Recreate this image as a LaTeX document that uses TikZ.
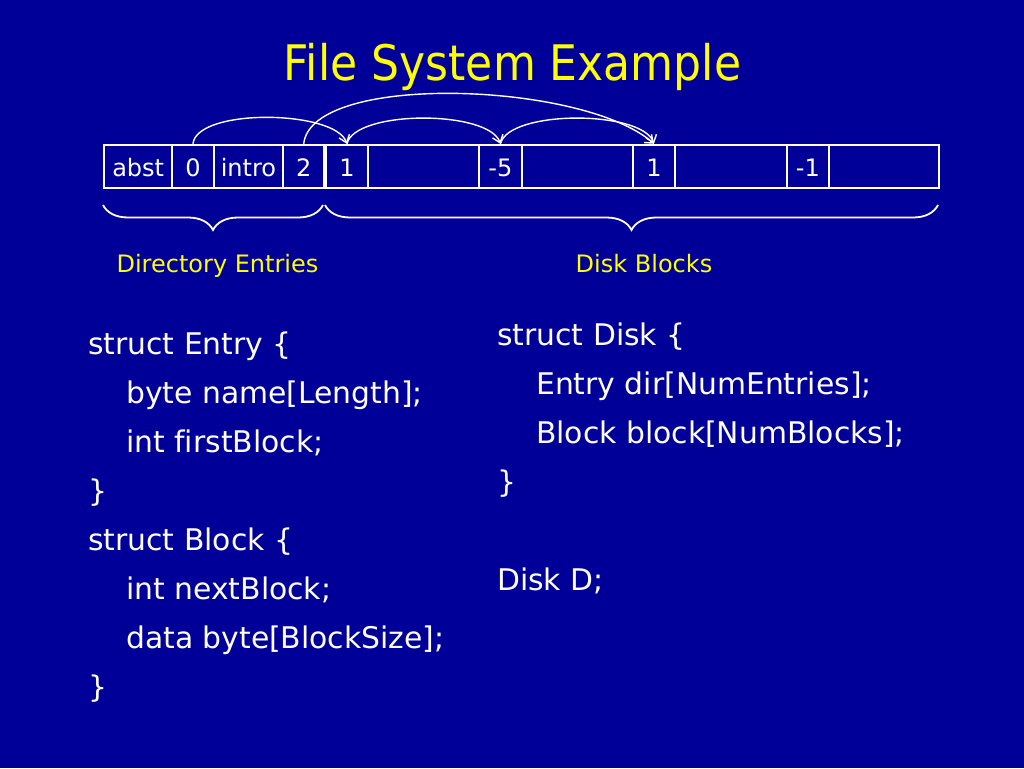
\documentclass[tikz,border=0pt]{standalone}
\usepackage{fontspec}
\setmainfont{DejaVu Sans}[Ligatures=NoCommon]
\newfontfamily\titlefont{DejaVu Sans}[FakeStretch=0.9]
\usetikzlibrary{arrows.meta,decorations.pathreplacing}
\definecolor{bgblue}{HTML}{000099}
\definecolor{ylw}{HTML}{FFFF00}
\tikzset{
  cell/.style={draw=white, line width=2.4pt, anchor=west, inner sep=0pt,
    minimum height=43pt, text height=21.5pt, text depth=2.5pt, text=white,
    font=\fontsize{24}{28}\selectfont},
  link/.style={white, line width=1.4pt, -{Straight Barb[length=7pt,width=11pt]}},
  bracestyle/.style={white, line width=1.8pt, decorate,
    decoration={brace, amplitude=25pt}},
  label/.style={text=ylw, anchor=base, inner sep=0pt, font=\fontsize{24}{28}\selectfont},
  code/.style={text=white, anchor=base west, inner sep=0pt, font=\fontsize{29.8}{34}\selectfont},
}
\begin{document}
\begin{tikzpicture}[x=1pt, y=-1pt]
\fill[bgblue] (0,0) rectangle (1024,768);
\useasboundingbox (0,0) rectangle (1024,768);

% title
\node[text=ylw, anchor=base, inner sep=0pt, font=\titlefont\fontsize{49}{56}\selectfont] (title) at (512.5,80) {File System Example};

% row of cells
\node[cell, minimum width=68pt]   (abst)  at (103,166.5)   {abst};
\node[cell, minimum width=41.5pt] (e0)    at (171,166.5)   {0};
\node[cell, minimum width=69.5pt] (intro) at (212.5,166.5) {intro};
\node[cell, minimum width=41pt]   (e2)    at (282,166.5)   {2};
\node[cell, minimum width=41.5pt] (b1n)   at (325,166.5)   {1};
\node[cell, minimum width=111.5pt](b1d)   at (366.5,166.5) {};
\node[cell, minimum width=42.5pt] (b2n)   at (478,166.5)   {-5};
\node[cell, minimum width=111pt]  (b2d)   at (520.5,166.5) {};
\node[cell, minimum width=42.5pt] (b3n)   at (631.5,166.5) {1};
\node[cell, minimum width=112pt]  (b3d)   at (674,166.5)   {};
\node[cell, minimum width=41.5pt] (b4n)   at (786,166.5)   {-1};
\node[cell, minimum width=110.5pt](b4d)   at (827.5,166.5) {};

% links
\draw[link] (e0.north) .. controls +(4,-36) and +(-12,-34) .. (b1n.north);
\draw[link] (e2.north) .. controls +(8,-72) and +(-70,-62) .. (b3n.north);
\draw[link] (b1n.north) .. controls +(8,-34) and +(-12,-34) .. (b2n.north);
\draw[link] (b2n.north) .. controls +(8,-34) and +(-12,-34) .. (b3n.north);

% braces
\coordinate (dl) at (103,205);
\coordinate (dr) at (323,205);
\coordinate (bl) at (325,205);
\coordinate (br) at (938,205);
\draw[bracestyle] (dr) -- (dl);
\draw[bracestyle] (br) -- (bl);

\node[label] (dirlab) at (217.5,272) {Directory Entries};
\node[label] (blklab) at (644,272) {Disk Blocks};

% left code
\node[code] (l1) at (88,354) {struct Entry \{};
\node[code] (l2) at (126,403) {byte name[Length];};
\node[code] (l3) at (126,452) {int firstBlock;};
\node[code] (l4) at (88,501) {\}};
\node[code] (l5) at (88,550) {struct Block \{};
\node[code] (l6) at (126,599) {int nextBlock;};
\node[code] (l7) at (126,648) {data byte[BlockSize];};
\node[code] (l8) at (88,697) {\}};

% right code
\node[code] (r1) at (497,345) {struct Disk \{};
\node[code] (r2) at (536,394) {Entry dir[NumEntries];};
\node[code] (r3) at (536,443) {Block block[NumBlocks];};
\node[code] (r4) at (497,492) {\}};
\node[code] (r5) at (497,590) {Disk D;};
\end{tikzpicture}
\end{document}
